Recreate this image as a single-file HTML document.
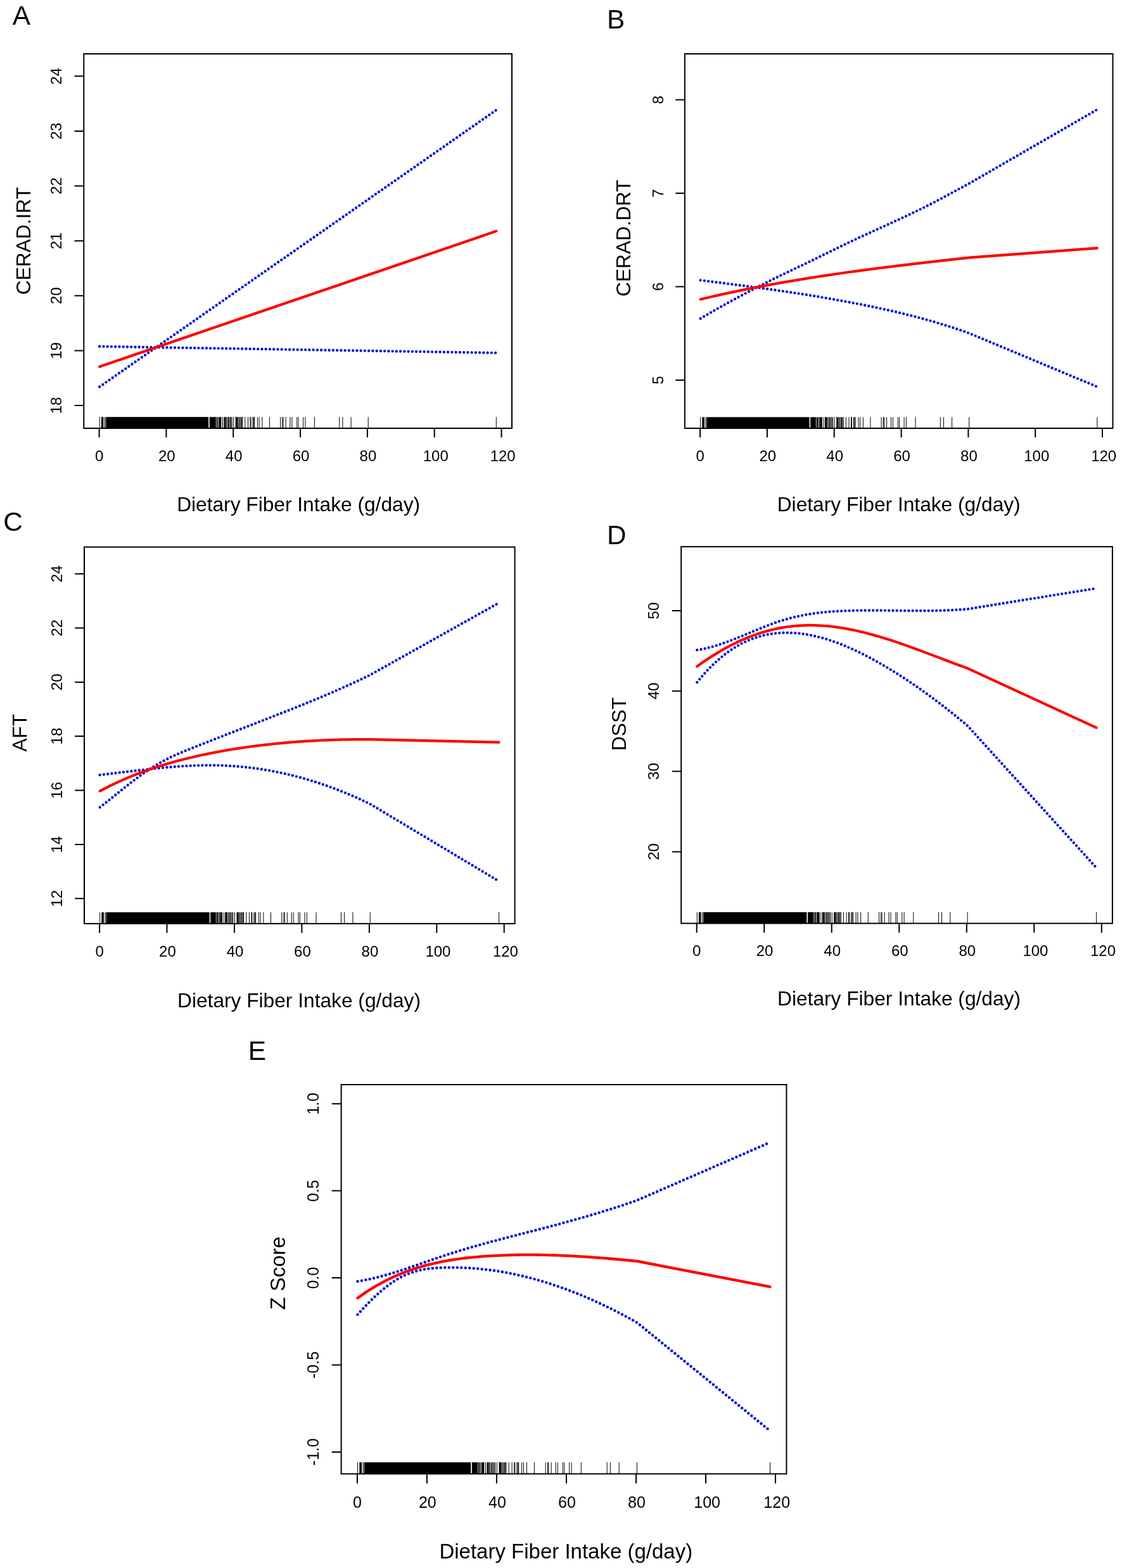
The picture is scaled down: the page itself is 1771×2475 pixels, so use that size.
<!DOCTYPE html>
<html><head><meta charset="utf-8"><title>Dietary fiber intake and cognitive scores</title>
<style>
html,body{margin:0;padding:0;background:#fff;}
svg{display:block;}
text{font-family:"Liberation Sans",Arial,Helvetica,sans-serif;fill:#000;}
.fr{fill:none;stroke:#000;stroke-width:2;}
.tk{stroke:#000;stroke-width:2;fill:none;}
.rug{stroke:#000;stroke-width:1;fill:none;}
.red{fill:none;stroke:#f00;stroke-width:4.2;stroke-linecap:round;stroke-linejoin:round;}
.blu{fill:none;stroke:#0015d8;stroke-width:4.4;stroke-linecap:round;stroke-dasharray:0 6.25;}
</style></head><body>
<svg width="1771" height="2475" viewBox="0 0 1771 2475">
<rect width="1771" height="2475" fill="#fff"/>
<g id="panelA">
<rect x="159.8" y="658.2" width="3.6" height="17.8" fill="#000"/>
<rect x="167.7" y="658.2" width="161.4" height="17.8" fill="#000"/>
<rect x="330.7" y="658.2" width="8.3" height="17.8" fill="#000"/>
<rect x="345.8" y="658.2" width="3.6" height="17.8" fill="#000"/>
<rect x="353.5" y="658.2" width="2.8" height="17.8" fill="#000"/>
<rect x="360.0" y="658.2" width="1.9" height="17.8" fill="#000"/>
<rect x="371.7" y="658.2" width="3.1" height="17.8" fill="#000"/>
<path class="rug" d="M157.2,658.2V676.0M165.5,658.2V676.0M167.2,658.2V676.0M339.4,658.2V676.0M340.7,658.2V676.0M342.0,658.2V676.0M343.3,658.2V676.0M345.0,658.2V676.0M351.5,658.2V676.0M357.1,658.2V676.0M358.7,658.2V676.0M363.2,658.2V676.0M364.5,658.2V676.0M366.1,658.2V676.0M368.7,658.2V676.0M375.6,658.2V676.0M377.2,658.2V676.0M378.8,658.2V676.0M380.1,658.2V676.0M381.4,658.2V676.0M382.7,658.2V676.0M386.8,658.2V676.0M391.5,658.2V676.0M394.9,658.2V676.0M396.0,658.2V676.0M399.0,658.2V676.0M400.3,658.2V676.0M401.7,658.2V676.0M406.4,658.2V676.0M409.1,658.2V676.0M413.9,658.2V676.0M425.4,658.2V676.0M442.6,658.2V676.0M445.7,658.2V676.0M447.1,658.2V676.0M451.1,658.2V676.0M457.9,658.2V676.0M460.9,658.2V676.0M468.7,658.2V676.0M471.0,658.2V676.0M478.6,658.2V676.0M481.9,658.2V676.0M496.5,658.2V676.0M535.8,658.2V676.0M540.9,658.2V676.0M554.1,658.2V676.0M581.2,658.2V676.0M783.3,658.2V676.0"/>
<rect class="fr" x="132.3" y="85.0" width="675.7" height="591.0"/>
<path class="tk" d="M156.6,676.0v14.5M262.4,676.0v14.5M368.2,676.0v14.5M474.1,676.0v14.5M579.9,676.0v14.5M685.7,676.0v14.5M791.5,676.0v14.5"/>
<text x="156.6" y="727.5" font-size="24" text-anchor="middle">0</text>
<text x="263.3" y="727.5" font-size="24" text-anchor="middle">20</text>
<text x="369.2" y="727.5" font-size="24" text-anchor="middle">40</text>
<text x="475.1" y="727.5" font-size="24" text-anchor="middle">60</text>
<text x="580.9" y="727.5" font-size="24" text-anchor="middle">80</text>
<text x="687.8" y="727.5" font-size="24" text-anchor="middle">100</text>
<text x="793.7" y="727.5" font-size="24" text-anchor="middle">120</text>
<path class="tk" d="M117.5,640.0H132.3M117.5,553.4H132.3M117.5,466.8H132.3M117.5,380.2H132.3M117.5,293.6H132.3M117.5,207.0H132.3M117.5,120.3H132.3"/>
<text transform="translate(97.3,640.0) rotate(-90)" font-size="24" text-anchor="middle">18</text>
<text transform="translate(97.3,553.4) rotate(-90)" font-size="24" text-anchor="middle">19</text>
<text transform="translate(97.3,466.8) rotate(-90)" font-size="24" text-anchor="middle">20</text>
<text transform="translate(97.3,380.2) rotate(-90)" font-size="24" text-anchor="middle">21</text>
<text transform="translate(97.3,293.6) rotate(-90)" font-size="24" text-anchor="middle">22</text>
<text transform="translate(97.3,207.0) rotate(-90)" font-size="24" text-anchor="middle">23</text>
<text transform="translate(97.3,120.3) rotate(-90)" font-size="24" text-anchor="middle">24</text>
<text transform="translate(48.0,380.2) rotate(-90)" font-size="31.7" text-anchor="middle">CERAD.IRT</text>
<text x="471.1" y="807.2" font-size="31.7" text-anchor="middle">Dietary Fiber Intake (g/day)</text>
<text x="19.8" y="38.5" font-size="42.3">A</text>
<path class="blu" d="M157.18,610.51L783.32,173.67"/>
<path class="blu" d="M157.18,546.80L783.32,556.99"/>
<path class="red" d="M157.18,578.81L783.32,364.83"/>
</g>
<g id="panelB">
<rect x="1108.3" y="658.4" width="3.6" height="17.6" fill="#000"/>
<rect x="1116.2" y="658.4" width="161.4" height="17.6" fill="#000"/>
<rect x="1279.2" y="658.4" width="8.3" height="17.6" fill="#000"/>
<rect x="1294.3" y="658.4" width="3.6" height="17.6" fill="#000"/>
<rect x="1302.0" y="658.4" width="2.8" height="17.6" fill="#000"/>
<rect x="1308.5" y="658.4" width="1.9" height="17.6" fill="#000"/>
<rect x="1320.2" y="658.4" width="3.1" height="17.6" fill="#000"/>
<path class="rug" d="M1105.7,658.4V676.0M1114.0,658.4V676.0M1115.7,658.4V676.0M1287.9,658.4V676.0M1289.2,658.4V676.0M1290.5,658.4V676.0M1291.8,658.4V676.0M1293.5,658.4V676.0M1300.0,658.4V676.0M1305.6,658.4V676.0M1307.2,658.4V676.0M1311.7,658.4V676.0M1313.0,658.4V676.0M1314.6,658.4V676.0M1317.2,658.4V676.0M1324.1,658.4V676.0M1325.7,658.4V676.0M1327.3,658.4V676.0M1328.6,658.4V676.0M1329.9,658.4V676.0M1331.2,658.4V676.0M1335.3,658.4V676.0M1340.0,658.4V676.0M1343.4,658.4V676.0M1344.5,658.4V676.0M1347.5,658.4V676.0M1348.8,658.4V676.0M1350.2,658.4V676.0M1354.9,658.4V676.0M1357.6,658.4V676.0M1362.4,658.4V676.0M1373.9,658.4V676.0M1391.1,658.4V676.0M1394.2,658.4V676.0M1395.6,658.4V676.0M1399.6,658.4V676.0M1406.4,658.4V676.0M1409.4,658.4V676.0M1417.2,658.4V676.0M1419.5,658.4V676.0M1427.1,658.4V676.0M1430.4,658.4V676.0M1445.0,658.4V676.0M1484.3,658.4V676.0M1489.4,658.4V676.0M1502.6,658.4V676.0M1529.7,658.4V676.0M1731.8,658.4V676.0"/>
<rect class="fr" x="1080.9" y="85.0" width="675.6" height="591.0"/>
<path class="tk" d="M1105.1,676.0v14.5M1210.9,676.0v14.5M1316.7,676.0v14.5M1422.6,676.0v14.5M1528.4,676.0v14.5M1634.2,676.0v14.5M1740.0,676.0v14.5"/>
<text x="1105.1" y="727.5" font-size="24" text-anchor="middle">0</text>
<text x="1211.8" y="727.5" font-size="24" text-anchor="middle">20</text>
<text x="1317.7" y="727.5" font-size="24" text-anchor="middle">40</text>
<text x="1423.6" y="727.5" font-size="24" text-anchor="middle">60</text>
<text x="1529.4" y="727.5" font-size="24" text-anchor="middle">80</text>
<text x="1636.3" y="727.5" font-size="24" text-anchor="middle">100</text>
<text x="1742.2" y="727.5" font-size="24" text-anchor="middle">120</text>
<path class="tk" d="M1066.3,600.1H1080.9M1066.3,452.6H1080.9M1066.3,305.1H1080.9M1066.3,157.6H1080.9"/>
<text transform="translate(1046.5,600.1) rotate(-90)" font-size="24" text-anchor="middle">5</text>
<text transform="translate(1046.5,452.6) rotate(-90)" font-size="24" text-anchor="middle">6</text>
<text transform="translate(1046.5,305.1) rotate(-90)" font-size="24" text-anchor="middle">7</text>
<text transform="translate(1046.5,157.6) rotate(-90)" font-size="24" text-anchor="middle">8</text>
<text transform="translate(995.4,375.8) rotate(-90)" font-size="31.7" text-anchor="middle">CERAD.DRT</text>
<text x="1418.7" y="807.2" font-size="31.7" text-anchor="middle">Dietary Fiber Intake (g/day)</text>
<text x="958.0" y="45.3" font-size="42.3">B</text>
<path class="blu" d="M1105.68,502.70L1110.97,499.60L1116.26,496.53L1121.56,493.48L1126.85,490.45L1132.14,487.44L1137.43,484.46L1142.72,481.51L1148.01,478.57L1153.30,475.66L1158.59,472.77L1163.88,469.90L1169.17,467.06L1174.47,464.24L1179.76,461.44L1185.05,458.66L1190.34,455.91L1195.63,453.17L1200.92,450.46L1206.21,447.77L1211.50,445.10L1216.79,442.46L1222.08,439.83L1227.38,437.23L1232.67,434.64L1237.96,432.08L1243.25,429.54L1248.54,427.00L1253.83,424.47L1259.12,421.95L1264.41,419.42L1269.70,416.89L1274.99,414.35L1280.29,411.79L1285.58,409.21L1290.87,406.62L1296.16,404.02L1301.45,401.41L1306.74,398.80L1312.03,396.20L1317.32,393.60L1322.61,391.01L1327.90,388.43L1333.20,385.87L1338.49,383.34L1343.78,380.83L1349.07,378.34L1354.36,375.87L1359.65,373.42L1364.94,370.98L1370.23,368.56L1375.52,366.14L1380.81,363.73L1386.11,361.33L1391.40,358.92L1396.69,356.52L1401.98,354.11L1407.27,351.69L1412.56,349.27L1417.85,346.83L1423.14,344.38L1428.43,341.91L1433.72,339.42L1439.02,336.91L1444.31,334.37L1449.60,331.81L1454.89,329.21L1460.18,326.58L1465.47,323.92L1470.76,321.21L1476.05,318.47L1481.34,315.68L1486.63,312.86L1491.93,310.01L1497.22,307.15L1502.51,304.28L1507.80,301.41L1513.09,298.54L1518.38,295.70L1523.67,292.88L1528.96,290.10L1529.70,289.71L1731.82,172.92"/>
<path class="blu" d="M1105.68,442.34L1110.97,443.01L1116.26,443.67L1121.56,444.34L1126.85,445.01L1132.14,445.68L1137.43,446.35L1142.72,447.02L1148.01,447.70L1153.30,448.37L1158.59,449.06L1163.88,449.74L1169.17,450.43L1174.47,451.12L1179.76,451.82L1185.05,452.52L1190.34,453.23L1195.63,453.94L1200.92,454.67L1206.21,455.39L1211.50,456.13L1216.79,456.87L1222.08,457.62L1227.38,458.38L1232.67,459.15L1237.96,459.92L1243.25,460.71L1248.54,461.51L1253.83,462.31L1259.12,463.13L1264.41,463.95L1269.70,464.79L1274.99,465.63L1280.29,466.49L1285.58,467.36L1290.87,468.24L1296.16,469.12L1301.45,470.02L1306.74,470.93L1312.03,471.85L1317.32,472.79L1322.61,473.73L1327.90,474.69L1333.20,475.66L1338.49,476.64L1343.78,477.63L1349.07,478.64L1354.36,479.65L1359.65,480.69L1364.94,481.74L1370.23,482.80L1375.52,483.88L1380.81,484.98L1386.11,486.10L1391.40,487.23L1396.69,488.39L1401.98,489.56L1407.27,490.76L1412.56,491.97L1417.85,493.21L1423.14,494.47L1428.43,495.76L1433.72,497.07L1439.02,498.41L1444.31,499.77L1449.60,501.16L1454.89,502.57L1460.18,504.02L1465.47,505.49L1470.76,506.99L1476.05,508.53L1481.34,510.09L1486.63,511.69L1491.93,513.31L1497.22,514.97L1502.51,516.67L1507.80,518.40L1513.09,520.17L1518.38,521.97L1523.67,523.80L1528.96,525.68L1529.70,525.95L1731.82,610.46"/>
<path class="red" d="M1105.68,472.44L1110.97,471.19L1116.26,469.95L1121.56,468.73L1126.85,467.52L1132.14,466.33L1137.43,465.15L1142.72,463.99L1148.01,462.84L1153.30,461.71L1158.59,460.59L1163.88,459.49L1169.17,458.40L1174.47,457.32L1179.76,456.26L1185.05,455.21L1190.34,454.17L1195.63,453.15L1200.92,452.14L1206.21,451.14L1211.50,450.15L1216.79,449.18L1222.08,448.22L1227.38,447.27L1232.67,446.33L1237.96,445.41L1243.25,444.49L1248.54,443.59L1253.83,442.70L1259.12,441.82L1264.41,440.95L1269.70,440.08L1274.99,439.23L1280.29,438.39L1285.58,437.56L1290.87,436.74L1296.16,435.93L1301.45,435.13L1306.74,434.34L1312.03,433.55L1317.32,432.78L1322.61,432.01L1327.90,431.25L1333.20,430.50L1338.49,429.76L1343.78,429.02L1349.07,428.30L1354.36,427.58L1359.65,426.87L1364.94,426.16L1370.23,425.46L1375.52,424.77L1380.81,424.08L1386.11,423.41L1391.40,422.73L1396.69,422.07L1401.98,421.40L1407.27,420.75L1412.56,420.10L1417.85,419.45L1423.14,418.81L1428.43,418.18L1433.72,417.55L1439.02,416.92L1444.31,416.30L1449.60,415.68L1454.89,415.06L1460.18,414.45L1465.47,413.85L1470.76,413.24L1476.05,412.64L1481.34,412.04L1486.63,411.45L1491.93,410.86L1497.22,410.26L1502.51,409.68L1507.80,409.09L1513.09,408.51L1518.38,407.92L1523.67,407.34L1528.96,406.76L1529.70,406.68L1731.82,391.64"/>
</g>
<g id="panelC">
<rect x="160.3" y="1440.0" width="3.6" height="17.9" fill="#000"/>
<rect x="168.3" y="1440.0" width="162.4" height="17.9" fill="#000"/>
<rect x="332.2" y="1440.0" width="8.3" height="17.9" fill="#000"/>
<rect x="347.4" y="1440.0" width="3.6" height="17.9" fill="#000"/>
<rect x="355.2" y="1440.0" width="2.8" height="17.9" fill="#000"/>
<rect x="361.7" y="1440.0" width="1.9" height="17.9" fill="#000"/>
<rect x="373.5" y="1440.0" width="3.1" height="17.9" fill="#000"/>
<path class="rug" d="M157.7,1440.0V1457.9M166.0,1440.0V1457.9M167.7,1440.0V1457.9M341.0,1440.0V1457.9M342.3,1440.0V1457.9M343.6,1440.0V1457.9M344.9,1440.0V1457.9M346.6,1440.0V1457.9M353.2,1440.0V1457.9M358.8,1440.0V1457.9M360.4,1440.0V1457.9M364.9,1440.0V1457.9M366.3,1440.0V1457.9M367.9,1440.0V1457.9M370.5,1440.0V1457.9M377.4,1440.0V1457.9M379.0,1440.0V1457.9M380.6,1440.0V1457.9M382.0,1440.0V1457.9M383.2,1440.0V1457.9M384.5,1440.0V1457.9M388.7,1440.0V1457.9M393.4,1440.0V1457.9M396.8,1440.0V1457.9M397.9,1440.0V1457.9M400.9,1440.0V1457.9M402.2,1440.0V1457.9M403.6,1440.0V1457.9M408.4,1440.0V1457.9M411.1,1440.0V1457.9M415.9,1440.0V1457.9M427.5,1440.0V1457.9M444.8,1440.0V1457.9M447.9,1440.0V1457.9M449.3,1440.0V1457.9M453.3,1440.0V1457.9M460.2,1440.0V1457.9M463.2,1440.0V1457.9M471.0,1440.0V1457.9M473.3,1440.0V1457.9M481.0,1440.0V1457.9M484.3,1440.0V1457.9M499.0,1440.0V1457.9M538.5,1440.0V1457.9M543.6,1440.0V1457.9M556.9,1440.0V1457.9M584.2,1440.0V1457.9M787.5,1440.0V1457.9"/>
<rect class="fr" x="133.0" y="863.5" width="679.6" height="594.4"/>
<path class="tk" d="M157.1,1457.9v14.7M263.5,1457.9v14.7M370.0,1457.9v14.7M476.4,1457.9v14.7M582.9,1457.9v14.7M689.3,1457.9v14.7M795.7,1457.9v14.7"/>
<text x="157.1" y="1509.5" font-size="24" text-anchor="middle">0</text>
<text x="264.4" y="1509.5" font-size="24" text-anchor="middle">20</text>
<text x="371.0" y="1509.5" font-size="24" text-anchor="middle">40</text>
<text x="477.4" y="1509.5" font-size="24" text-anchor="middle">60</text>
<text x="583.9" y="1509.5" font-size="24" text-anchor="middle">80</text>
<text x="691.4" y="1509.5" font-size="24" text-anchor="middle">100</text>
<text x="797.9" y="1509.5" font-size="24" text-anchor="middle">120</text>
<path class="tk" d="M118.2,1418.3H133.0M118.2,1332.9H133.0M118.2,1247.5H133.0M118.2,1162.1H133.0M118.2,1076.7H133.0M118.2,991.2H133.0M118.2,905.8H133.0"/>
<text transform="translate(98.2,1418.3) rotate(-90)" font-size="24" text-anchor="middle">12</text>
<text transform="translate(98.2,1332.9) rotate(-90)" font-size="24" text-anchor="middle">14</text>
<text transform="translate(98.2,1247.5) rotate(-90)" font-size="24" text-anchor="middle">16</text>
<text transform="translate(98.2,1162.1) rotate(-90)" font-size="24" text-anchor="middle">18</text>
<text transform="translate(98.2,1076.7) rotate(-90)" font-size="24" text-anchor="middle">20</text>
<text transform="translate(98.2,991.2) rotate(-90)" font-size="24" text-anchor="middle">22</text>
<text transform="translate(98.2,905.8) rotate(-90)" font-size="24" text-anchor="middle">24</text>
<text transform="translate(42.0,1156.7) rotate(-90)" font-size="31.7" text-anchor="middle">AFT</text>
<text x="472.0" y="1589.6" font-size="31.7" text-anchor="middle">Dietary Fiber Intake (g/day)</text>
<text x="5.3" y="838.0" font-size="42.3">C</text>
<path class="blu" d="M157.69,1274.19L163.01,1270.09L168.33,1265.92L173.65,1261.69L178.97,1257.42L184.30,1253.13L189.62,1248.85L194.94,1244.59L200.26,1240.37L205.58,1236.21L210.91,1232.13L216.23,1228.13L221.55,1224.22L226.87,1220.43L232.19,1216.76L237.52,1213.21L242.84,1209.81L248.16,1206.57L253.48,1203.49L258.80,1200.58L264.13,1197.82L269.45,1195.21L274.77,1192.73L280.09,1190.35L285.41,1188.05L290.74,1185.83L296.06,1183.66L301.38,1181.53L306.70,1179.41L312.02,1177.31L317.35,1175.20L322.67,1173.10L327.99,1171.01L333.31,1168.92L338.63,1166.83L343.96,1164.75L349.28,1162.67L354.60,1160.60L359.92,1158.52L365.24,1156.45L370.57,1154.38L375.89,1152.31L381.21,1150.24L386.53,1148.17L391.85,1146.10L397.18,1144.03L402.50,1141.96L407.82,1139.89L413.14,1137.82L418.46,1135.74L423.79,1133.67L429.11,1131.59L434.43,1129.51L439.75,1127.42L445.07,1125.33L450.40,1123.23L455.72,1121.12L461.04,1119.01L466.36,1116.88L471.68,1114.75L477.01,1112.60L482.33,1110.44L487.65,1108.27L492.97,1106.08L498.29,1103.88L503.62,1101.66L508.94,1099.43L514.26,1097.17L519.58,1094.90L524.90,1092.60L530.23,1090.29L535.55,1087.95L540.87,1085.59L546.19,1083.21L551.51,1080.80L556.84,1078.36L562.16,1075.90L567.48,1073.40L572.80,1070.88L578.12,1068.33L583.45,1065.75L584.19,1065.39L787.49,951.59"/>
<path class="blu" d="M157.69,1223.23L163.01,1222.61L168.33,1221.99L173.65,1221.36L178.97,1220.72L184.30,1220.08L189.62,1219.43L194.94,1218.79L200.26,1218.14L205.58,1217.50L210.91,1216.86L216.23,1216.23L221.55,1215.61L226.87,1215.00L232.19,1214.40L237.52,1213.81L242.84,1213.25L248.16,1212.69L253.48,1212.16L258.80,1211.66L264.13,1211.17L269.45,1210.71L274.77,1210.28L280.09,1209.88L285.41,1209.51L290.74,1209.17L296.06,1208.87L301.38,1208.61L306.70,1208.38L312.02,1208.20L317.35,1208.06L322.67,1207.96L327.99,1207.91L333.31,1207.91L338.63,1207.96L343.96,1208.07L349.28,1208.22L354.60,1208.43L359.92,1208.69L365.24,1209.01L370.57,1209.38L375.89,1209.80L381.21,1210.27L386.53,1210.80L391.85,1211.38L397.18,1212.02L402.50,1212.71L407.82,1213.45L413.14,1214.25L418.46,1215.10L423.79,1216.01L429.11,1216.97L434.43,1217.98L439.75,1219.05L445.07,1220.17L450.40,1221.35L455.72,1222.58L461.04,1223.86L466.36,1225.20L471.68,1226.60L477.01,1228.05L482.33,1229.55L487.65,1231.11L492.97,1232.73L498.29,1234.40L503.62,1236.12L508.94,1237.90L514.26,1239.74L519.58,1241.63L524.90,1243.57L530.23,1245.57L535.55,1247.63L540.87,1249.75L546.19,1251.91L551.51,1254.14L556.84,1256.42L562.16,1258.76L567.48,1261.15L572.80,1263.60L578.12,1266.10L583.45,1268.67L584.19,1269.03L787.49,1390.98"/>
<path class="red" d="M157.69,1248.63L163.01,1245.82L168.33,1243.10L173.65,1240.45L178.97,1237.87L184.30,1235.37L189.62,1232.94L194.94,1230.58L200.26,1228.29L205.58,1226.07L210.91,1223.91L216.23,1221.82L221.55,1219.78L226.87,1217.81L232.19,1215.90L237.52,1214.04L242.84,1212.24L248.16,1210.50L253.48,1208.81L258.80,1207.17L264.13,1205.58L269.45,1204.03L274.77,1202.54L280.09,1201.09L285.41,1199.68L290.74,1198.32L296.06,1196.99L301.38,1195.71L306.70,1194.46L312.02,1193.25L317.35,1192.07L322.67,1190.93L327.99,1189.82L333.31,1188.75L338.63,1187.71L343.96,1186.70L349.28,1185.72L354.60,1184.78L359.92,1183.86L365.24,1182.98L370.57,1182.12L375.89,1181.30L381.21,1180.50L386.53,1179.73L391.85,1178.98L397.18,1178.26L402.50,1177.57L407.82,1176.90L413.14,1176.26L418.46,1175.64L423.79,1175.05L429.11,1174.47L434.43,1173.92L439.75,1173.39L445.07,1172.89L450.40,1172.40L455.72,1171.94L461.04,1171.50L466.36,1171.09L471.68,1170.69L477.01,1170.32L482.33,1169.97L487.65,1169.63L492.97,1169.32L498.29,1169.04L503.62,1168.77L508.94,1168.52L514.26,1168.29L519.58,1168.09L524.90,1167.90L530.23,1167.74L535.55,1167.59L540.87,1167.47L546.19,1167.36L551.51,1167.28L556.84,1167.21L562.16,1167.16L567.48,1167.13L572.80,1167.13L578.12,1167.14L583.45,1167.17L584.19,1167.17L787.49,1171.60"/>
</g>
<g id="panelD">
<rect x="1102.9" y="1439.8" width="3.6" height="17.7" fill="#000"/>
<rect x="1110.9" y="1439.8" width="162.5" height="17.7" fill="#000"/>
<rect x="1275.0" y="1439.8" width="8.3" height="17.7" fill="#000"/>
<rect x="1290.1" y="1439.8" width="3.6" height="17.7" fill="#000"/>
<rect x="1297.9" y="1439.8" width="2.8" height="17.7" fill="#000"/>
<rect x="1304.5" y="1439.8" width="1.9" height="17.7" fill="#000"/>
<rect x="1316.2" y="1439.8" width="3.1" height="17.7" fill="#000"/>
<path class="rug" d="M1100.3,1439.8V1457.5M1108.6,1439.8V1457.5M1110.4,1439.8V1457.5M1283.7,1439.8V1457.5M1285.0,1439.8V1457.5M1286.4,1439.8V1457.5M1287.7,1439.8V1457.5M1289.4,1439.8V1457.5M1295.9,1439.8V1457.5M1301.6,1439.8V1457.5M1303.2,1439.8V1457.5M1307.7,1439.8V1457.5M1309.0,1439.8V1457.5M1310.6,1439.8V1457.5M1313.2,1439.8V1457.5M1320.2,1439.8V1457.5M1321.8,1439.8V1457.5M1323.4,1439.8V1457.5M1324.7,1439.8V1457.5M1326.0,1439.8V1457.5M1327.3,1439.8V1457.5M1331.4,1439.8V1457.5M1336.2,1439.8V1457.5M1339.6,1439.8V1457.5M1340.7,1439.8V1457.5M1343.7,1439.8V1457.5M1345.0,1439.8V1457.5M1346.4,1439.8V1457.5M1351.1,1439.8V1457.5M1353.9,1439.8V1457.5M1358.7,1439.8V1457.5M1370.3,1439.8V1457.5M1387.6,1439.8V1457.5M1390.7,1439.8V1457.5M1392.1,1439.8V1457.5M1396.1,1439.8V1457.5M1403.0,1439.8V1457.5M1406.0,1439.8V1457.5M1413.9,1439.8V1457.5M1416.2,1439.8V1457.5M1423.8,1439.8V1457.5M1427.1,1439.8V1457.5M1441.8,1439.8V1457.5M1481.4,1439.8V1457.5M1486.5,1439.8V1457.5M1499.8,1439.8V1457.5M1527.1,1439.8V1457.5M1730.6,1439.8V1457.5"/>
<rect class="fr" x="1075.2" y="862.9" width="680.7" height="594.6"/>
<path class="tk" d="M1099.7,1457.5v14.8M1206.2,1457.5v14.8M1312.7,1457.5v14.8M1419.3,1457.5v14.8M1525.8,1457.5v14.8M1632.3,1457.5v14.8M1738.8,1457.5v14.8"/>
<text x="1099.7" y="1508.5" font-size="24" text-anchor="middle">0</text>
<text x="1207.1" y="1508.5" font-size="24" text-anchor="middle">20</text>
<text x="1313.7" y="1508.5" font-size="24" text-anchor="middle">40</text>
<text x="1420.3" y="1508.5" font-size="24" text-anchor="middle">60</text>
<text x="1526.8" y="1508.5" font-size="24" text-anchor="middle">80</text>
<text x="1634.4" y="1508.5" font-size="24" text-anchor="middle">100</text>
<text x="1741.0" y="1508.5" font-size="24" text-anchor="middle">120</text>
<path class="tk" d="M1060.8,1344.4H1075.2M1060.8,1217.6H1075.2M1060.8,1090.7H1075.2M1060.8,964.1H1075.2"/>
<text transform="translate(1040.0,1344.4) rotate(-90)" font-size="24" text-anchor="middle">20</text>
<text transform="translate(1040.0,1217.6) rotate(-90)" font-size="24" text-anchor="middle">30</text>
<text transform="translate(1040.0,1090.7) rotate(-90)" font-size="24" text-anchor="middle">40</text>
<text transform="translate(1040.0,964.1) rotate(-90)" font-size="24" text-anchor="middle">50</text>
<text transform="translate(988.3,1142.8) rotate(-90)" font-size="31.7" text-anchor="middle">DSST</text>
<text x="1419.0" y="1587.1" font-size="31.7" text-anchor="middle">Dietary Fiber Intake (g/day)</text>
<text x="958.0" y="858.7" font-size="42.3">D</text>
<path class="blu" d="M1100.29,1025.96L1105.61,1025.11L1110.94,1024.08L1116.26,1022.88L1121.59,1021.53L1126.92,1020.05L1132.24,1018.43L1137.57,1016.70L1142.89,1014.86L1148.22,1012.94L1153.55,1010.93L1158.87,1008.86L1164.20,1006.73L1169.52,1004.56L1174.85,1002.36L1180.18,1000.15L1185.50,997.92L1190.83,995.71L1196.15,993.51L1201.48,991.34L1206.81,989.21L1212.13,987.14L1217.46,985.14L1222.78,983.22L1228.11,981.39L1233.44,979.66L1238.76,978.04L1244.09,976.54L1249.41,975.14L1254.74,973.84L1260.07,972.64L1265.39,971.54L1270.72,970.53L1276.04,969.61L1281.37,968.77L1286.70,968.01L1292.02,967.32L1297.35,966.71L1302.67,966.16L1308.00,965.68L1313.33,965.26L1318.65,964.89L1323.98,964.58L1329.30,964.32L1334.63,964.10L1339.96,963.92L1345.28,963.77L1350.61,963.66L1355.93,963.58L1361.26,963.53L1366.59,963.49L1371.91,963.47L1377.24,963.48L1382.56,963.49L1387.89,963.52L1393.22,963.56L1398.54,963.60L1403.87,963.66L1409.19,963.71L1414.52,963.77L1419.85,963.82L1425.17,963.88L1430.50,963.93L1435.82,963.97L1441.15,964.00L1446.48,964.02L1451.80,964.03L1457.13,964.02L1462.45,963.99L1467.78,963.94L1473.11,963.87L1478.43,963.77L1483.76,963.65L1489.08,963.50L1494.41,963.32L1499.74,963.10L1505.06,962.85L1510.39,962.56L1515.71,962.23L1521.04,961.86L1526.37,961.44L1527.11,961.38L1730.56,928.61"/>
<path class="blu" d="M1100.29,1076.94L1105.61,1070.43L1110.94,1064.25L1116.26,1058.40L1121.59,1052.87L1126.92,1047.66L1132.24,1042.75L1137.57,1038.14L1142.89,1033.83L1148.22,1029.80L1153.55,1026.05L1158.87,1022.58L1164.20,1019.37L1169.52,1016.42L1174.85,1013.73L1180.18,1011.28L1185.50,1009.07L1190.83,1007.10L1196.15,1005.35L1201.48,1003.82L1206.81,1002.51L1212.13,1001.40L1217.46,1000.50L1222.78,999.78L1228.11,999.26L1233.44,998.91L1238.76,998.74L1244.09,998.74L1249.41,998.89L1254.74,999.20L1260.07,999.66L1265.39,1000.27L1270.72,1001.01L1276.04,1001.90L1281.37,1002.92L1286.70,1004.08L1292.02,1005.36L1297.35,1006.77L1302.67,1008.30L1308.00,1009.95L1313.33,1011.71L1318.65,1013.58L1323.98,1015.56L1329.30,1017.65L1334.63,1019.83L1339.96,1022.12L1345.28,1024.49L1350.61,1026.96L1355.93,1029.51L1361.26,1032.15L1366.59,1034.86L1371.91,1037.65L1377.24,1040.52L1382.56,1043.45L1387.89,1046.45L1393.22,1049.51L1398.54,1052.63L1403.87,1055.81L1409.19,1059.06L1414.52,1062.36L1419.85,1065.73L1425.17,1069.15L1430.50,1072.64L1435.82,1076.18L1441.15,1079.78L1446.48,1083.44L1451.80,1087.15L1457.13,1090.92L1462.45,1094.75L1467.78,1098.63L1473.11,1102.57L1478.43,1106.56L1483.76,1110.61L1489.08,1114.70L1494.41,1118.85L1499.74,1123.06L1505.06,1127.31L1510.39,1131.62L1515.71,1135.98L1521.04,1140.38L1526.37,1144.84L1527.11,1145.47L1730.56,1369.69"/>
<path class="red" d="M1100.29,1051.84L1105.61,1048.02L1110.94,1044.31L1116.26,1040.71L1121.59,1037.22L1126.92,1033.85L1132.24,1030.59L1137.57,1027.45L1142.89,1024.42L1148.22,1021.50L1153.55,1018.70L1158.87,1016.02L1164.20,1013.45L1169.52,1011.00L1174.85,1008.66L1180.18,1006.45L1185.50,1004.35L1190.83,1002.37L1196.15,1000.51L1201.48,998.77L1206.81,997.15L1212.13,995.65L1217.46,994.27L1222.78,993.02L1228.11,991.88L1233.44,990.87L1238.76,989.98L1244.09,989.21L1249.41,988.56L1254.74,988.02L1260.07,987.59L1265.39,987.28L1270.72,987.07L1276.04,986.97L1281.37,986.98L1286.70,987.08L1292.02,987.28L1297.35,987.58L1302.67,987.97L1308.00,988.45L1313.33,989.02L1318.65,989.68L1323.98,990.42L1329.30,991.24L1334.63,992.14L1339.96,993.12L1345.28,994.17L1350.61,995.29L1355.93,996.48L1361.26,997.74L1366.59,999.06L1371.91,1000.44L1377.24,1001.88L1382.56,1003.38L1387.89,1004.93L1393.22,1006.53L1398.54,1008.18L1403.87,1009.87L1409.19,1011.60L1414.52,1013.37L1419.85,1015.18L1425.17,1017.02L1430.50,1018.89L1435.82,1020.79L1441.15,1022.72L1446.48,1024.66L1451.80,1026.63L1457.13,1028.61L1462.45,1030.60L1467.78,1032.61L1473.11,1034.62L1478.43,1036.64L1483.76,1038.66L1489.08,1040.68L1494.41,1042.70L1499.74,1044.71L1505.06,1046.71L1510.39,1048.69L1515.71,1050.67L1521.04,1052.63L1526.37,1054.56L1527.11,1054.83L1730.56,1148.67"/>
</g>
<g id="panelE">
<rect x="567.3" y="2308.2" width="3.7" height="18.2" fill="#000"/>
<rect x="575.4" y="2308.2" width="167.8" height="18.2" fill="#000"/>
<rect x="744.9" y="2308.2" width="8.6" height="18.2" fill="#000"/>
<rect x="760.6" y="2308.2" width="3.7" height="18.2" fill="#000"/>
<rect x="768.6" y="2308.2" width="2.9" height="18.2" fill="#000"/>
<rect x="775.4" y="2308.2" width="1.9" height="18.2" fill="#000"/>
<rect x="787.6" y="2308.2" width="3.2" height="18.2" fill="#000"/>
<path class="rug" d="M564.5,2308.2V2326.4M573.1,2308.2V2326.4M574.9,2308.2V2326.4M754.0,2308.2V2326.4M755.3,2308.2V2326.4M756.7,2308.2V2326.4M758.0,2308.2V2326.4M759.8,2308.2V2326.4M766.6,2308.2V2326.4M772.4,2308.2V2326.4M774.0,2308.2V2326.4M778.7,2308.2V2326.4M780.1,2308.2V2326.4M781.7,2308.2V2326.4M784.4,2308.2V2326.4M791.6,2308.2V2326.4M793.3,2308.2V2326.4M794.9,2308.2V2326.4M796.3,2308.2V2326.4M797.6,2308.2V2326.4M799.0,2308.2V2326.4M803.2,2308.2V2326.4M808.1,2308.2V2326.4M811.7,2308.2V2326.4M812.8,2308.2V2326.4M815.9,2308.2V2326.4M817.3,2308.2V2326.4M818.7,2308.2V2326.4M823.6,2308.2V2326.4M826.4,2308.2V2326.4M831.4,2308.2V2326.4M843.4,2308.2V2326.4M861.2,2308.2V2326.4M864.5,2308.2V2326.4M865.9,2308.2V2326.4M870.1,2308.2V2326.4M877.2,2308.2V2326.4M880.3,2308.2V2326.4M888.4,2308.2V2326.4M890.8,2308.2V2326.4M898.7,2308.2V2326.4M902.1,2308.2V2326.4M917.3,2308.2V2326.4M958.2,2308.2V2326.4M963.4,2308.2V2326.4M977.2,2308.2V2326.4M1005.4,2308.2V2326.4M1215.5,2308.2V2326.4"/>
<rect class="fr" x="538.6" y="1712.0" width="702.8" height="614.4"/>
<path class="tk" d="M563.9,2326.4v15.0M673.9,2326.4v15.0M783.9,2326.4v15.0M894.0,2326.4v15.0M1004.0,2326.4v15.0M1114.0,2326.4v15.0M1224.0,2326.4v15.0"/>
<text x="563.9" y="2380.0" font-size="25" text-anchor="middle">0</text>
<text x="674.8" y="2380.0" font-size="25" text-anchor="middle">20</text>
<text x="784.9" y="2380.0" font-size="25" text-anchor="middle">40</text>
<text x="895.0" y="2380.0" font-size="25" text-anchor="middle">60</text>
<text x="1005.0" y="2380.0" font-size="25" text-anchor="middle">80</text>
<text x="1116.1" y="2380.0" font-size="25" text-anchor="middle">100</text>
<text x="1226.2" y="2380.0" font-size="25" text-anchor="middle">120</text>
<path class="tk" d="M523.7,2291.9H538.6M523.7,2154.5H538.6M523.7,2017.1H538.6M523.7,1879.6H538.6M523.7,1742.2H538.6"/>
<text transform="translate(503.1,2291.9) rotate(-90)" font-size="25" text-anchor="middle">-1.0</text>
<text transform="translate(503.1,2154.5) rotate(-90)" font-size="25" text-anchor="middle">-0.5</text>
<text transform="translate(503.1,2017.1) rotate(-90)" font-size="25" text-anchor="middle">0.0</text>
<text transform="translate(503.1,1879.6) rotate(-90)" font-size="25" text-anchor="middle">0.5</text>
<text transform="translate(503.1,1742.2) rotate(-90)" font-size="25" text-anchor="middle">1.0</text>
<text transform="translate(449.7,2009.7) rotate(-90)" font-size="33" text-anchor="middle">Z Score</text>
<text x="893.3" y="2460.3" font-size="33" text-anchor="middle">Dietary Fiber Intake (g/day)</text>
<text x="391.8" y="1673.4" font-size="42.3">E</text>
<path class="blu" style="stroke-width:4.55;stroke-dasharray:0 6.5" d="M564.51,2022.62L570.01,2021.72L575.51,2020.71L581.01,2019.60L586.51,2018.39L592.01,2017.09L597.51,2015.71L603.01,2014.26L608.51,2012.73L614.01,2011.14L619.52,2009.49L625.02,2007.78L630.52,2006.03L636.02,2004.24L641.52,2002.41L647.02,2000.55L652.52,1998.67L658.02,1996.77L663.52,1994.86L669.02,1992.94L674.53,1991.03L680.03,1989.12L685.53,1987.22L691.03,1985.34L696.53,1983.49L702.03,1981.66L707.53,1979.87L713.03,1978.12L718.53,1976.39L724.03,1974.69L729.54,1973.03L735.04,1971.39L740.54,1969.78L746.04,1968.19L751.54,1966.62L757.04,1965.07L762.54,1963.55L768.04,1962.04L773.54,1960.55L779.04,1959.07L784.55,1957.61L790.05,1956.16L795.55,1954.72L801.05,1953.29L806.55,1951.86L812.05,1950.45L817.55,1949.03L823.05,1947.62L828.55,1946.21L834.05,1944.80L839.56,1943.39L845.06,1941.98L850.56,1940.56L856.06,1939.13L861.56,1937.70L867.06,1936.25L872.56,1934.80L878.06,1933.33L883.56,1931.86L889.06,1930.37L894.57,1928.87L900.07,1927.35L905.57,1925.82L911.07,1924.27L916.57,1922.71L922.07,1921.13L927.57,1919.54L933.07,1917.93L938.57,1916.29L944.07,1914.64L949.58,1912.97L955.08,1911.28L960.58,1909.56L966.08,1907.83L971.58,1906.07L977.08,1904.29L982.58,1902.48L988.08,1900.65L993.58,1898.80L999.08,1896.92L1004.59,1895.01L1005.36,1894.74L1215.49,1803.19"/>
<path class="blu" style="stroke-width:4.55;stroke-dasharray:0 6.5" d="M564.51,2074.98L570.01,2068.86L575.51,2062.93L581.01,2057.19L586.51,2051.67L592.01,2046.38L597.51,2041.34L603.01,2036.55L608.51,2032.05L614.01,2027.85L619.52,2023.95L625.02,2020.38L630.52,2017.16L636.02,2014.29L641.52,2011.78L647.02,2009.59L652.52,2007.72L658.02,2006.13L663.52,2004.81L669.02,2003.72L674.53,2002.84L680.03,2002.15L685.53,2001.62L691.03,2001.24L696.53,2000.98L702.03,2000.81L707.53,2000.71L713.03,2000.68L718.53,2000.72L724.03,2000.82L729.54,2000.99L735.04,2001.23L740.54,2001.53L746.04,2001.90L751.54,2002.34L757.04,2002.84L762.54,2003.40L768.04,2004.03L773.54,2004.72L779.04,2005.47L784.55,2006.29L790.05,2007.17L795.55,2008.11L801.05,2009.12L806.55,2010.19L812.05,2011.32L817.55,2012.51L823.05,2013.76L828.55,2015.07L834.05,2016.44L839.56,2017.87L845.06,2019.36L850.56,2020.91L856.06,2022.52L861.56,2024.19L867.06,2025.92L872.56,2027.70L878.06,2029.54L883.56,2031.44L889.06,2033.40L894.57,2035.41L900.07,2037.48L905.57,2039.60L911.07,2041.78L916.57,2044.02L922.07,2046.31L927.57,2048.66L933.07,2051.06L938.57,2053.51L944.07,2056.02L949.58,2058.58L955.08,2061.19L960.58,2063.86L966.08,2066.57L971.58,2069.34L977.08,2072.17L982.58,2075.04L988.08,2077.96L993.58,2080.94L999.08,2083.96L1004.59,2087.04L1005.36,2087.47L1215.49,2258.54"/>
<path class="red" style="stroke-width:4.35" d="M564.51,2048.90L570.01,2044.95L575.51,2041.16L581.01,2037.53L586.51,2034.05L592.01,2030.73L597.51,2027.56L603.01,2024.53L608.51,2021.64L614.01,2018.90L619.52,2016.28L625.02,2013.80L630.52,2011.44L636.02,2009.20L641.52,2007.09L647.02,2005.09L652.52,2003.20L658.02,2001.42L663.52,1999.74L669.02,1998.17L674.53,1996.69L680.03,1995.31L685.53,1994.01L691.03,1992.80L696.53,1991.67L702.03,1990.62L707.53,1989.65L713.03,1988.75L718.53,1987.91L724.03,1987.14L729.54,1986.42L735.04,1985.77L740.54,1985.16L746.04,1984.61L751.54,1984.10L757.04,1983.63L762.54,1983.20L768.04,1982.80L773.54,1982.44L779.04,1982.12L784.55,1981.83L790.05,1981.57L795.55,1981.34L801.05,1981.15L806.55,1980.98L812.05,1980.85L817.55,1980.75L823.05,1980.68L828.55,1980.63L834.05,1980.62L839.56,1980.63L845.06,1980.67L850.56,1980.73L856.06,1980.82L861.56,1980.94L867.06,1981.08L872.56,1981.24L878.06,1981.43L883.56,1981.63L889.06,1981.86L894.57,1982.12L900.07,1982.39L905.57,1982.68L911.07,1982.99L916.57,1983.32L922.07,1983.66L927.57,1984.03L933.07,1984.41L938.57,1984.80L944.07,1985.21L949.58,1985.64L955.08,1986.08L960.58,1986.53L966.08,1987.00L971.58,1987.48L977.08,1987.96L982.58,1988.46L988.08,1988.97L993.58,1989.49L999.08,1990.02L1004.59,1990.56L1005.36,1990.63L1215.49,2031.17"/>
</g>
</svg></body></html>
